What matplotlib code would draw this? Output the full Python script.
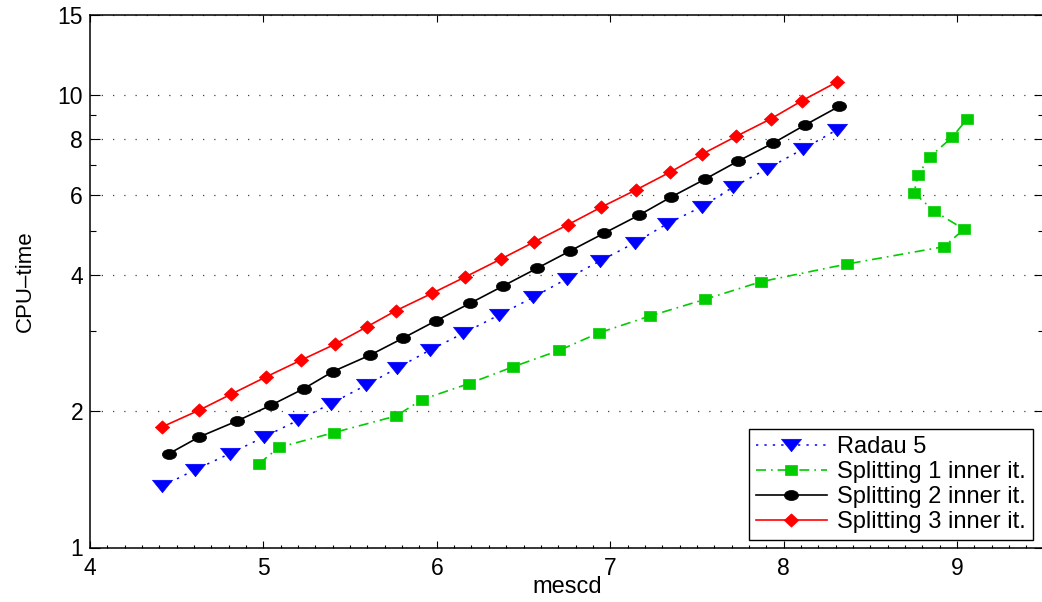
import numpy as np
import matplotlib
matplotlib.use("Agg")
import matplotlib.pyplot as plt
from matplotlib.path import Path
from matplotlib.transforms import Affine2D
from matplotlib.ticker import FixedLocator, NullFormatter, MultipleLocator

# values
radau_x = [4.415, 4.606, 4.807, 5.003, 5.200, 5.390, 5.592, 5.770, 5.961, 6.151, 6.359,
           6.555, 6.751, 6.941, 7.143, 7.327, 7.529, 7.708, 7.904, 8.112, 8.308]
radau_y = [1.365, 1.485, 1.612, 1.754, 1.91, 2.079, 2.283, 2.489, 2.73, 2.97, 3.262,
           3.568, 3.924, 4.293, 4.712, 5.184, 5.66, 6.249, 6.86, 7.586, 8.37]

split1_x = [4.975, 5.090, 5.407, 5.765, 5.915, 6.186, 6.439, 6.705, 6.935, 7.229, 7.546,
            7.870, 8.366, 8.925, 9.040, 8.867, 8.752, 8.775, 8.844, 8.971, 9.058]
split1_y = [1.532, 1.664, 1.794, 1.952, 2.122, 2.302, 2.506, 2.724, 2.979, 3.245, 3.532,
            3.864, 4.228, 4.617, 5.045, 5.538, 6.07, 6.653, 7.3, 8.046, 8.836]

split2_x = [4.456, 4.629, 4.848, 5.044, 5.234, 5.401, 5.615, 5.805, 5.995, 6.191, 6.382,
            6.578, 6.768, 6.964, 7.166, 7.350, 7.547, 7.737, 7.939, 8.123, 8.319]
split2_y = [1.612, 1.754, 1.903, 2.062, 2.244, 2.447, 2.66, 2.9, 3.168, 3.461, 3.78,
            4.137, 4.517, 4.943, 5.42, 5.94, 6.51, 7.134, 7.818, 8.57, 9.42]

split3_x = [4.415, 4.629, 4.813, 5.015, 5.217, 5.413, 5.597, 5.765, 5.972, 6.163, 6.370,
            6.561, 6.757, 6.947, 7.149, 7.345, 7.529, 7.725, 7.927, 8.106, 8.308]
split3_y = [1.846, 2.01, 2.18, 2.381, 2.593, 2.812, 3.072, 3.336, 3.642, 3.957, 4.337,
            4.729, 5.165, 5.642, 6.164, 6.745, 7.39, 8.087, 8.849, 9.699, 10.67]

labels = ["Radau 5", "Splitting 1 inner it.", "Splitting 2 inner it.", "Splitting 3 inner it."]
yticks = [1, 2, 4, 6, 8, 10, 15]
yminor = [3, 5, 7, 9]
xticks = [4, 5, 6, 7, 8, 9]

plt.rcParams['font.family'] = ['Liberation Sans', 'DejaVu Sans']


# the reference is stretched sideways, so the markers are a bit squashed
def poly(pts):
    pts = list(pts) + [pts[0]]
    return Path(pts, closed=True)

tri_mk = poly([(-1, 0.62), (1, 0.62), (0, -0.62)])
sq_mk = poly([(-1, -0.78), (1, -0.78), (1, 0.78), (-1, 0.78)])
dia_mk = poly([(-1, 0), (0, 0.93), (1, 0), (0, -0.93)])
ell_mk = Affine2D().scale(1, 0.71).transform_path(Path.unit_circle())

fig = plt.figure(figsize=(10.42, 6.02), dpi=100)
ax = fig.add_axes([90/1042, (602-547.5)/602, 953.7/1042, 532.5/602])

blue = (0, 0, 1)
green = (0, 0.8, 0)
red = (1, 0, 0)

ax.plot(radau_x, radau_y, color=blue, ls=(0, (1.5, 4)), lw=1.1, marker=tri_mk, ms=14.4,
        mfc=blue, mec=blue, mew=0.5, label=labels[0])
ax.plot(split1_x, split1_y, color=green, ls=(0, (6, 3, 1, 3)), lw=1.2, marker=sq_mk, ms=8.8,
        mfc=green, mec=green, mew=0.5, label=labels[1])
ax.plot(split2_x, split2_y, color='k', ls='-', lw=1.2, marker=ell_mk, ms=10.2,
        mfc='k', mec='k', mew=0.5, label=labels[2])
ax.plot(split3_x, split3_y, color=red, ls='-', lw=1.2, marker=dia_mk, ms=10.3,
        mfc=red, mec=red, mew=0.5, label=labels[3])

ax.set_yscale('log')
ax.set_xlim(4, 9.5)
ax.set_ylim(1, 15)

ax.yaxis.set_major_locator(FixedLocator(yticks))
ax.set_yticklabels([str(v) for v in yticks])
ax.yaxis.set_minor_locator(FixedLocator(yminor))
ax.yaxis.set_minor_formatter(NullFormatter())
ax.set_xticks(xticks)
ax.set_xticklabels([str(v) for v in xticks])
ax.xaxis.set_minor_locator(MultipleLocator(0.1))

ax.tick_params(which='both', direction='in', top=True, right=True, labelsize=16.5, width=0.8)
ax.tick_params(axis='y', which='major', length=7, pad=5)
ax.tick_params(axis='y', which='minor', length=4.5)
ax.tick_params(axis='x', which='major', length=5, pad=7)
ax.tick_params(axis='x', which='minor', length=2.2, top=False)

ax.grid(True, axis='y', which='major', ls=(0, (1, 8)), lw=0.9, color='0.25')

for s in ax.spines.values():
    s.set_linewidth(1.1)

ax.set_xlabel('mescd', fontsize=17)
ax.set_ylabel('CPU\u2013time', fontsize=16)
ax.xaxis.set_label_coords(0.5, -0.075)
ax.xaxis.label.set_va('center')
ax.yaxis.set_label_coords(-0.068, 0.5)
ax.yaxis.label.set_va('center')

leg = ax.legend(loc='lower right', bbox_to_anchor=(1033/1042, (602-540)/602),
                bbox_transform=fig.transFigure, fontsize=17, fancybox=False,
                framealpha=1, edgecolor='k', borderpad=0.3, labelspacing=0.12,
                handlelength=3.0, handletextpad=0.45, borderaxespad=0)
leg.get_frame().set_linewidth(1.0)

fig.savefig('out.png', dpi=100)
